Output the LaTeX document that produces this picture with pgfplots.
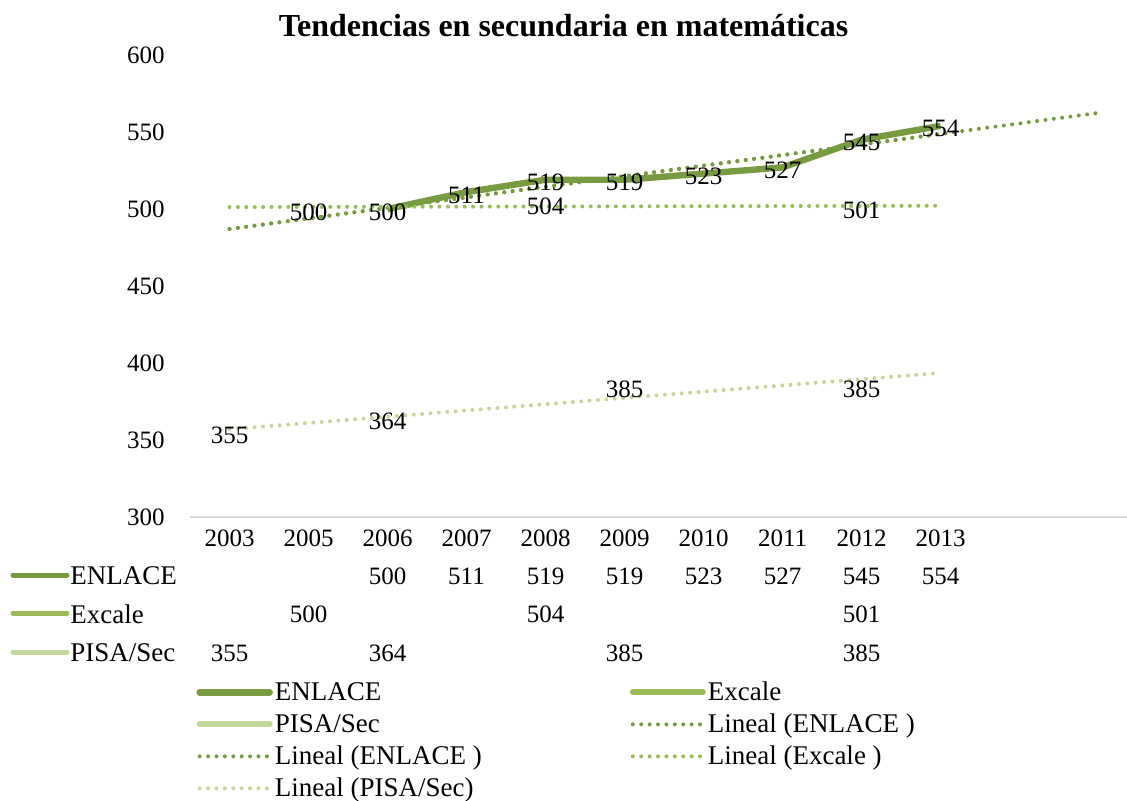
\documentclass[border=0pt]{standalone}
\usepackage{fontspec}
\setmainfont{Liberation Serif}
\usepackage{pgfplots}
\pgfplotsset{compat=1.18}
\usepackage{pgfplotstable}
\definecolor{enlace}{HTML}{789A40}
\definecolor{excale}{HTML}{9BBB59}
\definecolor{pisa}{HTML}{C3D69B}
\definecolor{axisgray}{HTML}{D9D9D9}
\pgfplotsset{/pgf/number format/assume math mode=true}

% x = category index (1 = 2003, 2 = 2005, 3 = 2006, ... 10 = 2013)
\pgfplotstableread{
x y
3 500
4 511
5 519
6 519
7 523
8 527
9 545
10 554
}\enlace
\pgfplotstableread{
x y
2 500
5 504
9 501
}\excale
\pgfplotstableread{
x y
1 355
3 364
6 385
9 385
}\pisa

\newcommand{\num}{\fontsize{12.5}{15}\selectfont}
\newcommand{\txt}{\fontsize{13.5}{16}\selectfont}

\begin{document}
\begin{tikzpicture}
\useasboundingbox (0pt,0pt) rectangle (563.5pt,-400pt);
\node[font=\bfseries\fontsize{16}{18}\selectfont] at (281.75pt,-13pt) {Tendencias en secundaria en matemáticas};

% data table row headers
\draw[enlace, line width=2.5pt, line cap=round] (6.5pt,-287.5pt) -- (33.5pt,-287.5pt);
\draw[excale, line width=2.5pt, line cap=round] (6.5pt,-306.5pt) -- (33.5pt,-306.5pt);
\draw[pisa, line width=2.5pt, line cap=round] (6.5pt,-326pt) -- (33.5pt,-326pt);
\node[anchor=west, inner sep=0pt, font=\txt] at (35pt,-288pt) {ENLACE};
\node[anchor=west, inner sep=0pt, font=\txt] at (35pt,-307pt) {Excale};
\node[anchor=west, inner sep=0pt, font=\txt] at (35pt,-326.5pt) {PISA/Sec};

\begin{axis}[
  at={(95pt,-258.5pt)}, anchor=south west, scale only axis,
  width=468.5pt, height=231pt,
  xmin=0.5, xmax=12.36, ymin=300, ymax=600,
  ytick={300,350,...,600},
  xtick={1,...,10},
  xticklabels={2003,2005,2006,2007,2008,2009,2010,2011,2012,2013},
  axis lines*=left,
  x axis line style={-, draw=axisgray, line width=1pt},
  y axis line style={draw=none},
  major tick length=0pt,
  tick label style={font=\num},
  yticklabel style={inner sep=0pt, xshift=-12.5pt},
  xticklabel style={inner sep=0pt, yshift=-6pt},
  clip=false,
  nodes near coords style={font=\num, anchor=center, inner sep=0pt, text=black},
  lbl/.style={nodes near coords style={yshift=-1.5pt}},
  trend/.style={line width=2pt, line cap=round, dash pattern=on 0pt off 4.2pt},
  legend columns=2,
  legend cell align=left,
  legend image code/.code={\draw[#1, line cap=round] (0pt,0pt) -- (35pt,0pt);},
  legend style={draw=none, fill=none, inner sep=0pt, font=\txt,
    at={(axis description cs:0.0065,-0.344)}, anchor=north west,
    nodes={inner sep=0pt, text height=12pt, text depth=4pt},
    /tikz/every odd column/.append style={column sep=1pt},
    /tikz/every even column/.append style={column sep=74pt}},
]
\addplot[enlace, line width=3.2pt, line join=round, mark=none, nodes near coords, lbl] table[x=x, y=y] {\enlace};
\addlegendentry{ENLACE}
\addplot[excale, draw=none, mark=none, nodes near coords, lbl,
  legend image code/.code={\draw[excale, line width=3pt, line cap=round] (0pt,0pt) -- (35pt,0pt);}] table[x=x, y=y] {\excale};
\addlegendentry{Excale}
\addplot[pisa, draw=none, mark=none, nodes near coords, lbl,
  legend image code/.code={\draw[pisa, line width=3pt, line cap=round] (0pt,0pt) -- (35pt,0pt);}] table[x=x, y=y] {\pisa};
\addlegendentry{PISA/Sec}
% linear trend lines (least squares over category index)
\addplot[enlace, trend] coordinates {(1,487.03) (10,548.74)};
\addlegendentry{Lineal (ENLACE )}
\addplot[enlace, trend] coordinates {(1,487.03) (12,562.46)};
\addlegendentry{Lineal (ENLACE )}
\addplot[excale, trend] coordinates {(1,501.26) (10,502.11)};
\addlegendentry{Lineal (Excale )}
\addplot[pisa, trend] coordinates {(1,357.02) (10,393.57)};
\addlegendentry{Lineal (PISA/Sec)}

% data table values
\addplot[draw=none, mark=none, forget plot, nodes near coords, point meta=\thisrow{y}] table[x=x, y expr=261.7] {\enlace};
\addplot[draw=none, mark=none, forget plot, nodes near coords, point meta=\thisrow{y}] table[x=x, y expr=237.0] {\excale};
\addplot[draw=none, mark=none, forget plot, nodes near coords, point meta=\thisrow{y}] table[x=x, y expr=211.7] {\pisa};
\end{axis}
\end{tikzpicture}
\end{document}
